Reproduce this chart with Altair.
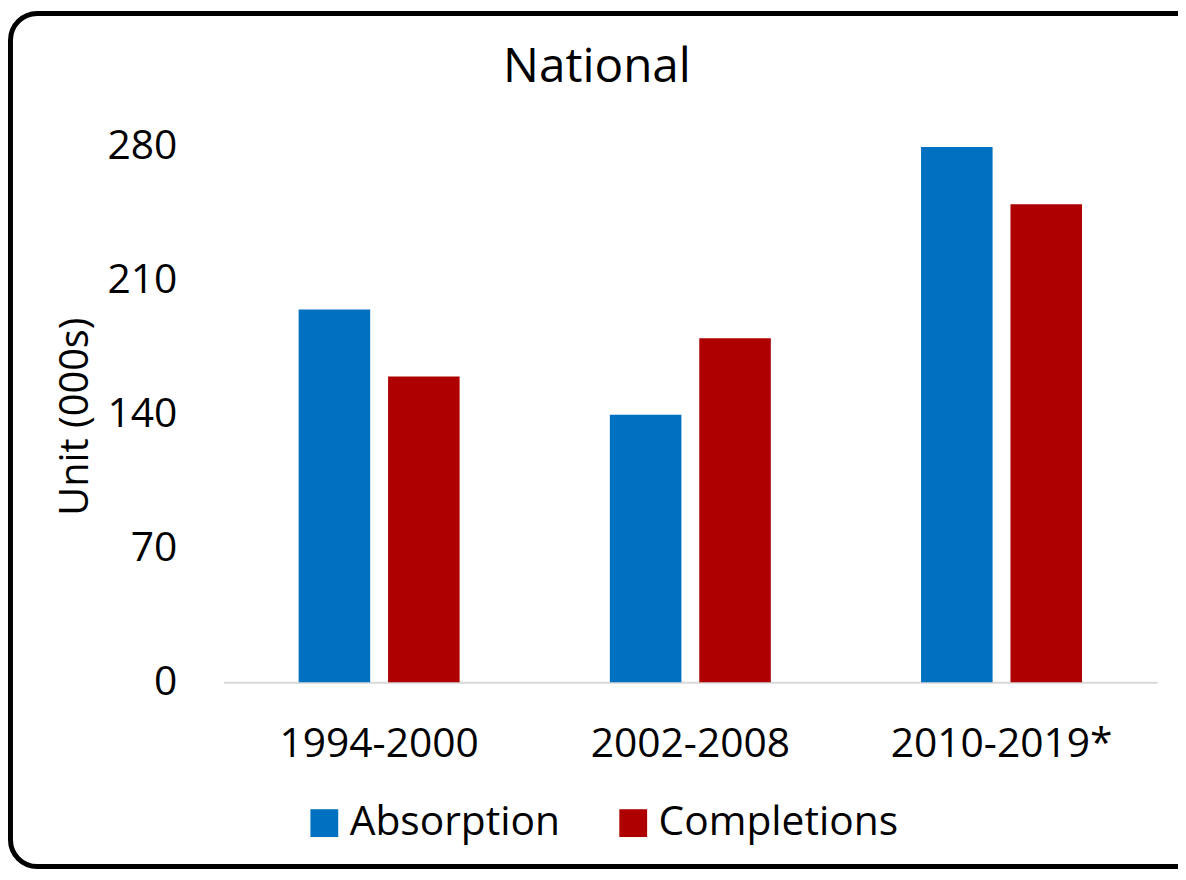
import altair as alt
import pandas as pd

periods = ["1994-2000", "2002-2008", "2010-2019*"]
series = ["Absorption", "Completions"]
absorption = [195, 140, 280]
completions = [160, 180, 250]
colors = ["#0070C0", "#AE0000"]
y_ticks = [0, 70, 140, 210, 280]

rows = []
for i, p in enumerate(periods):
    rows.append({"period": p, "series": "Absorption", "value": absorption[i]})
    rows.append({"period": p, "series": "Completions", "value": completions[i]})
df = pd.DataFrame(rows)

FONT = "Open Sans"

bars = alt.Chart(df).mark_bar(strokeWidth=0).encode(
    x=alt.X(
        "period:N",
        sort=periods,
        scale=alt.Scale(paddingInner=0, paddingOuter=0),
        axis=alt.Axis(
            title=None, labelAngle=0, labelFontSize=41, labelFont=FONT,
            labelColor="black", labelBaseline="alphabetic", labelPadding=75,
            labelLimit=0,
            ticks=False, tickSize=0, domainColor="#D9D9D9", domainWidth=2,
            grid=False,
        ),
    ),
    xOffset=alt.XOffset(
        "series:N", sort=series,
        scale=alt.Scale(paddingInner=0.2, paddingOuter=0.84),
    ),
    y=alt.Y(
        "value:Q",
        scale=alt.Scale(domain=[0, 280], nice=False),
        axis=alt.Axis(
            values=y_ticks, grid=False, domain=False, ticks=False, tickSize=0,
            labelFontSize=41, labelFont=FONT, labelColor="black",
            labelPadding=47,
            title="Unit (000s)", titleFont=FONT, titleFontSize=40,
            titleFontWeight="normal", titleColor="black", titleAngle=270,
            titleX=-137, titleY=271, titleBaseline="alphabetic",
            titleAlign="center",
        ),
    ),
    color=alt.Color(
        "series:N", sort=series,
        scale=alt.Scale(domain=series, range=colors),
        legend=alt.Legend(
            orient="none", legendX=81, legendY=660, direction="horizontal",
            title=None, symbolType="square", symbolSize=784,
            symbolStrokeWidth=0, symbolOpacity=1, labelFontSize=41,
            labelFont=FONT, labelColor="black", labelOffset=5,
            labelLimit=0, columnPadding=53, padding=0,
        ),
    ),
)

frame = alt.Chart(pd.DataFrame({"f": [0]})).mark_rect(
    filled=False, stroke="black", strokeWidth=5, cornerRadius=27
).encode(
    x=alt.value(-214.5), x2=alt.value(1040),
    y=alt.value(-134.5), y2=alt.value(724.5),
)

chart = alt.layer(bars, frame).properties(
    width=940,
    height=539,
    padding={"left": 217, "top": 137, "right": 21, "bottom": 188},
    autosize=alt.AutoSizeParams(type="none"),
    background="white",
    title=alt.TitleParams(
        "National", fontSize=48, font=FONT, fontWeight="normal",
        color="black", anchor="middle", frame="group", dx=-94,
        baseline="alphabetic", offset=0, dy=120,
    ),
).configure_view(strokeWidth=0, stroke="transparent")

chart.save("out.html", embed_options={"renderer": "svg", "actions": False})
